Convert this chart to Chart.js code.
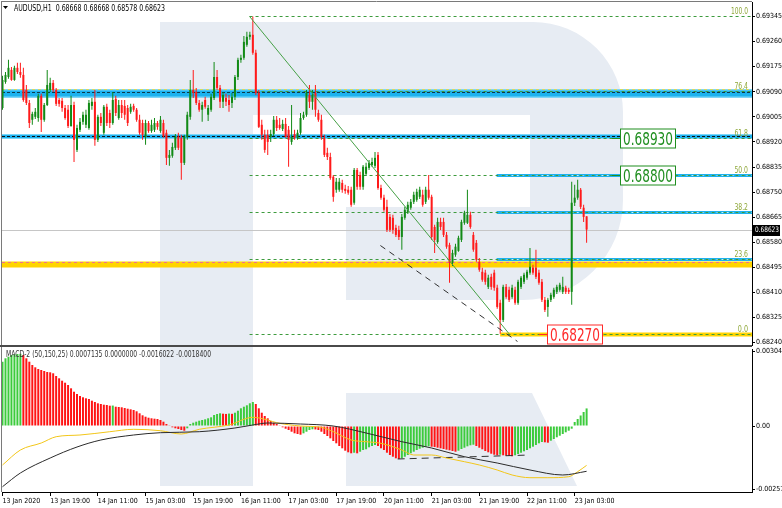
<!DOCTYPE html>
<html>
<head>
<meta charset="utf-8">
<script src="https://cdn.jsdelivr.net/npm/chart.js@4.4.1/dist/chart.umd.min.js"></script>
<style>
html,body{margin:0;padding:0;background:#fff;}
#wrap{position:relative;width:782px;height:508px;overflow:hidden;background:#fff;}
#wm{position:absolute;left:0;top:0;}
#c1{position:absolute;left:0;top:0;}
#c2{position:absolute;left:0;top:347px;}
</style>
</head>
<body>
<div id="wrap">
<svg id="wm" width="782" height="508" xmlns="http://www.w3.org/2000/svg">
 <path d="M160,22 L533,22 A90,90 0 0 1 623,112 L623,200 A100,100 0 0 1 523,300 L346,300 L346,207 L530,207 L530,115 L253,115 L253,486 L160,486 Z" fill="#e7ecf3"/>
 <path d="M346,393 L532,393 L577,486 L346,486 Z" fill="#e7ecf3"/>
</svg>
<canvas id="c1" width="782" height="347"></canvas>
<canvas id="c2" width="782" height="161"></canvas>
</div>
<script>
// ---------------- DATA ----------------
const opens = [0.69035,0.69123,0.69140,0.69164,0.69130,0.69171,0.69157,0.69147,0.69096,0.69052,
0.68995,0.69005,0.69001,0.69076,0.68995,0.69045,0.69096,0.69120,0.69096,0.69062,
0.69059,0.69035,0.69029,0.68974,0.69045,0.68893,0.68961,0.68988,0.68978,0.68967,
0.69042,0.69056,0.68927,0.69005,0.68951,0.69039,0.69018,0.68984,0.69066,0.69001,
0.69045,0.69042,0.69035,0.69022,0.69042,0.69029,0.68995,0.68984,0.68937,0.68984,
0.68957,0.68961,0.68984,0.68957,0.68984,0.68951,0.68866,0.68873,0.68900,0.68937,
0.68934,0.68849,0.68937,0.69005,0.69096,0.69089,0.69052,0.69029,0.69062,0.69012,
0.69029,0.69069,0.69140,0.69103,0.69056,0.69069,0.69062,0.69052,0.69073,0.69140,
0.69198,0.69205,0.69249,0.69276,0.69283,0.69222,0.69086,0.68978,0.68944,0.68944,
0.68937,0.68947,0.68995,0.68978,0.68964,0.68981,0.68961,0.68920,0.68947,0.68934,
0.68951,0.69001,0.69012,0.69079,0.69056,0.69086,0.69018,0.68995,0.68934,0.68883,
0.68869,0.68802,0.68758,0.68758,0.68781,0.68761,0.68758,0.68758,0.68714,0.68825,
0.68808,0.68768,0.68812,0.68832,0.68842,0.68839,0.68876,0.68764,0.68731,0.68700,
0.68666,0.68663,0.68629,0.68622,0.68598,0.68663,0.68683,0.68697,0.68717,0.68724,
0.68734,0.68741,0.68717,0.68758,0.68734,0.68632,0.68581,0.68649,0.68649,0.68605,
0.68571,0.68511,0.68538,0.68551,0.68588,0.68646,0.68646,0.68673,0.68605,0.68578,
0.68514,0.68480,0.68477,0.68429,0.68463,0.68477,0.68426,0.68375,0.68317,0.68429,
0.68419,0.68395,0.68419,0.68375,0.68429,0.68446,0.68460,0.68477,0.68494,0.68494,
0.68477,0.68446,0.68385,0.68361,0.68385,0.68395,0.68412,0.68419,0.68412,0.68426,
0.68419,0.68412,0.68714,0.68731,0.68758,0.68697,0.68668];
const highs = [0.69144,0.69157,0.69198,0.69174,0.69178,0.69188,0.69188,0.69171,0.69113,0.69062,
0.69022,0.69035,0.69083,0.69083,0.69052,0.69164,0.69137,0.69130,0.69103,0.69069,
0.69069,0.69045,0.69045,0.69076,0.69056,0.68978,0.69001,0.69022,0.69029,0.69062,
0.69069,0.69096,0.69012,0.69018,0.69045,0.69049,0.69029,0.69089,0.69076,0.69062,
0.69062,0.69062,0.69045,0.69049,0.69049,0.69035,0.69012,0.68995,0.68995,0.68991,
0.68995,0.69001,0.68991,0.69008,0.68995,0.68961,0.68893,0.68917,0.68947,0.68951,
0.68944,0.68944,0.69022,0.69130,0.69164,0.69103,0.69062,0.69056,0.69073,0.69045,
0.69083,0.69191,0.69164,0.69113,0.69089,0.69083,0.69079,0.69086,0.69147,0.69205,
0.69215,0.69279,0.69293,0.69293,0.69345,0.69232,0.69096,0.68995,0.68961,0.68961,
0.68961,0.69008,0.69008,0.69001,0.68995,0.69001,0.68974,0.69045,0.68961,0.68961,
0.69018,0.69022,0.69096,0.69113,0.69096,0.69113,0.69029,0.69012,0.68944,0.68900,
0.68883,0.68808,0.68798,0.68798,0.68792,0.68775,0.68771,0.68768,0.68832,0.68832,
0.68819,0.68842,0.68849,0.68859,0.68866,0.68886,0.68886,0.68775,0.68741,0.68724,
0.68676,0.68673,0.68639,0.68636,0.68676,0.68700,0.68717,0.68727,0.68751,0.68761,
0.68768,0.68758,0.68768,0.68808,0.68741,0.68639,0.68663,0.68663,0.68663,0.68615,
0.68578,0.68555,0.68575,0.68602,0.68656,0.68687,0.68758,0.68683,0.68615,0.68588,
0.68527,0.68494,0.68487,0.68470,0.68473,0.68487,0.68436,0.68385,0.68436,0.68439,
0.68429,0.68436,0.68429,0.68453,0.68466,0.68477,0.68487,0.68561,0.68504,0.68555,
0.68487,0.68456,0.68395,0.68392,0.68409,0.68426,0.68436,0.68443,0.68463,0.68433,
0.68426,0.68785,0.68775,0.68792,0.68764,0.68707,0.68668];
const lows = [0.69029,0.69117,0.69134,0.69127,0.69127,0.69150,0.69137,0.69056,0.69045,0.68967,
0.68978,0.68998,0.68988,0.68954,0.68988,0.69042,0.69089,0.69089,0.69042,0.69039,
0.69022,0.68995,0.68967,0.68971,0.68852,0.68886,0.68954,0.68978,0.68967,0.68961,
0.69029,0.68907,0.68920,0.68974,0.68944,0.68974,0.68967,0.68978,0.69008,0.68995,
0.69001,0.68995,0.68974,0.69015,0.69022,0.68988,0.68944,0.68927,0.68910,0.68951,
0.68951,0.68954,0.68961,0.68951,0.68934,0.68842,0.68839,0.68866,0.68893,0.68893,
0.68792,0.68842,0.68927,0.68995,0.69069,0.69045,0.69022,0.68988,0.69032,0.68991,
0.69022,0.69062,0.69096,0.69035,0.69035,0.69042,0.69022,0.69035,0.69062,0.69130,
0.69188,0.69198,0.69242,0.69266,0.69215,0.69079,0.68967,0.68927,0.68883,0.68876,
0.68920,0.68940,0.68957,0.68961,0.68957,0.68934,0.68836,0.68910,0.68927,0.68927,
0.68944,0.68995,0.69005,0.69035,0.69029,0.69005,0.68988,0.68927,0.68869,0.68859,
0.68792,0.68717,0.68748,0.68751,0.68748,0.68744,0.68741,0.68700,0.68707,0.68758,
0.68758,0.68758,0.68805,0.68825,0.68836,0.68832,0.68758,0.68724,0.68683,0.68615,
0.68615,0.68609,0.68598,0.68588,0.68555,0.68656,0.68676,0.68690,0.68710,0.68717,
0.68727,0.68700,0.68710,0.68724,0.68588,0.68544,0.68575,0.68622,0.68598,0.68558,
0.68443,0.68500,0.68531,0.68548,0.68581,0.68639,0.68642,0.68626,0.68548,0.68514,
0.68480,0.68446,0.68436,0.68422,0.68419,0.68416,0.68355,0.68270,0.68310,0.68389,
0.68378,0.68389,0.68368,0.68368,0.68422,0.68439,0.68453,0.68470,0.68470,0.68456,
0.68436,0.68378,0.68344,0.68328,0.68378,0.68389,0.68405,0.68412,0.68405,0.68405,
0.68405,0.68368,0.68703,0.68724,0.68693,0.68649,0.68578];
const closes = [0.69130,0.69147,0.69171,0.69130,0.69171,0.69157,0.69147,0.69062,0.69052,0.68984,
0.69015,0.69022,0.69076,0.68995,0.69045,0.69113,0.69120,0.69096,0.69049,0.69049,
0.69035,0.69001,0.68974,0.69045,0.68927,0.68967,0.68988,0.69012,0.69012,0.69052,
0.69056,0.68927,0.69005,0.68984,0.69039,0.68984,0.68984,0.69062,0.69018,0.69045,
0.69018,0.69012,0.68984,0.69039,0.69029,0.68995,0.68951,0.68944,0.68984,0.68957,
0.68978,0.68984,0.68971,0.68995,0.68940,0.68866,0.68876,0.68903,0.68937,0.68900,
0.68849,0.68937,0.69012,0.69096,0.69086,0.69052,0.69029,0.69045,0.69039,0.69035,
0.69073,0.69140,0.69103,0.69056,0.69079,0.69056,0.69045,0.69073,0.69140,0.69198,
0.69205,0.69259,0.69276,0.69283,0.69222,0.69086,0.68971,0.68944,0.68893,0.68920,
0.68947,0.68995,0.68967,0.68967,0.68981,0.68937,0.68927,0.68937,0.68934,0.68951,
0.69001,0.69012,0.69086,0.69056,0.69079,0.69029,0.68995,0.68937,0.68876,0.68869,
0.68798,0.68734,0.68785,0.68785,0.68758,0.68754,0.68748,0.68707,0.68825,0.68768,
0.68768,0.68836,0.68836,0.68849,0.68852,0.68866,0.68764,0.68731,0.68690,0.68622,
0.68622,0.68622,0.68605,0.68598,0.68666,0.68690,0.68707,0.68717,0.68741,0.68751,
0.68758,0.68707,0.68758,0.68731,0.68598,0.68588,0.68649,0.68632,0.68605,0.68565,
0.68511,0.68544,0.68565,0.68595,0.68649,0.68680,0.68673,0.68632,0.68555,0.68521,
0.68487,0.68453,0.68446,0.68460,0.68429,0.68426,0.68361,0.68317,0.68429,0.68395,
0.68385,0.68426,0.68375,0.68446,0.68460,0.68470,0.68480,0.68497,0.68477,0.68463,
0.68443,0.68385,0.68351,0.68385,0.68402,0.68419,0.68429,0.68436,0.68429,0.68412,
0.68412,0.68714,0.68731,0.68758,0.68700,0.68666,0.68623];

// MACD histogram and its colour runs (g = rising, r = falling)
const macdHist = [0.002612,0.002750,0.002815,0.002884,0.002913,0.002925,0.002935,0.002884,0.002750,0.002612,
0.002478,0.002384,0.002315,0.002275,0.002234,0.002193,0.002181,0.002141,0.002031,0.001938,
0.001840,0.001759,0.001665,0.001531,0.001393,0.001300,0.001219,0.001166,0.001125,0.001097,
0.001028,0.000975,0.000922,0.000894,0.000865,0.000853,0.000825,0.000830,0.000784,0.000772,
0.000760,0.000731,0.000703,0.000678,0.000650,0.000597,0.000516,0.000435,0.000378,0.000337,
0.000313,0.000297,0.000284,0.000244,0.000175,0.000081,0.000028,-0.000053,-0.000093,-0.000122,
-0.000162,-0.000191,-0.000093,0.000081,0.000134,0.000175,0.000215,0.000244,0.000272,0.000313,
0.000353,0.000447,0.000487,0.000516,0.000500,0.000490,0.000505,0.000495,0.000540,0.000621,
0.000719,0.000784,0.000841,0.000922,0.000975,0.000894,0.000719,0.000540,0.000406,0.000313,
0.000203,0.000134,0.000081,0.000028,-0.000053,-0.000110,-0.000162,-0.000232,-0.000297,-0.000325,
-0.000353,-0.000297,-0.000232,-0.000162,-0.000134,-0.000140,-0.000162,-0.000232,-0.000325,-0.000406,
-0.000500,-0.000609,-0.000703,-0.000812,-0.000906,-0.001003,-0.001068,-0.001109,-0.001085,-0.001109,
-0.001044,-0.000975,-0.000946,-0.000865,-0.000812,-0.000772,-0.000812,-0.000906,-0.000975,-0.001085,
-0.001178,-0.001247,-0.001312,-0.001340,-0.001312,-0.001247,-0.001178,-0.001109,-0.001044,-0.000975,
-0.000922,-0.000881,-0.000841,-0.000825,-0.000841,-0.000853,-0.000881,-0.000906,-0.000934,-0.000963,
-0.000987,-0.001016,-0.001044,-0.001003,-0.000934,-0.000881,-0.000825,-0.000784,-0.000760,-0.000812,
-0.000881,-0.000946,-0.001016,-0.001068,-0.001125,-0.001166,-0.001190,-0.001166,-0.001190,-0.001206,
-0.001219,-0.001231,-0.001190,-0.001137,-0.001085,-0.001028,-0.000975,-0.000906,-0.000841,-0.000772,
-0.000703,-0.000650,-0.000662,-0.000678,-0.000597,-0.000528,-0.000459,-0.000394,-0.000325,-0.000256,
-0.000191,-0.000110,0.000162,0.000284,0.000427,0.000569,0.000714];
const histColorRuns = [['g',7],['r',30],['g',1],['r',24],['g',12],['r',2],['g',1],['r',1],['g',7],['r',16],['g',4],['r',13],['g',1],['r',1],['g',6],['r',8],['g',10],['r',9],['g',6],['r',8],['g',1],['r',4],['g',10],['r',2],['g',13]];

// MACD lines (bar index, value) read at key points
const blackIdx = [0,6,16,25,33,44,53,66,78,84,89,100,111,122,134,144,155,166,177,188,196];
const blackVal = [-0.002466,-0.001909,-0.0013,-0.000853,-0.000569,-0.000366,-0.000272,-0.000232,-0.000081,0.000041,0.000122,0.000081,0,-0.000284,-0.000638,-0.000894,-0.001247,-0.001503,-0.001787,-0.00199,-0.00184];
const yellowIdx = [0,6,13,18,26,36,44,53,60,66,76,84,89,92,100,107,111,117,122,127,134,138,144,149,155,160,166,171,177,183,190,193,196];
const yellowVal = [-0.001584,-0.000975,-0.000691,-0.000435,-0.000366,-0.000232,-0.000134,-0.000191,-0.000325,-0.000134,0.000041,0.000353,0.000244,0.000134,0,-0.000053,-0.000232,-0.000569,-0.000638,-0.000703,-0.000975,-0.001178,-0.001178,-0.0013,-0.00145,-0.001584,-0.001787,-0.00199,-0.0021,-0.0021,-0.00206,-0.001856,-0.0016];
const macdDashIdx = [132.6,176.5];
const macdDashVal = [-0.00134,-0.00118];

// Axis ticks
const priceTicks = [0.69345,0.69260,0.69175,0.69090,0.69005,0.68920,0.68835,0.68750,0.68665,0.68580,0.68495,0.68410,0.68325,0.68240];
const macdTickVals = [0.0030465,0,-0.002575];
const macdTickLabels = ['0.0030465','0.00','-0.002575'];
const timeTickIdx = [0,16,32,48,64,80,96,112,128,144,160,176,192];
const timeLabels = ['13 Jan 2020','13 Jan 19:00','14 Jan 11:00','15 Jan 03:00','15 Jan 19:00','16 Jan 11:00','17 Jan 03:00','17 Jan 19:00','20 Jan 11:00','21 Jan 03:00','21 Jan 19:00','22 Jan 11:00','23 Jan 03:00'];

// Objects on the price chart
const fibPrices = [0.69345,0.69091,0.68934,0.68808,0.68681,0.68524,0.68270];
const fibLabels = ['100.0','76.4','61.8','50.0','38.2','23.6','0.0'];
const fibStartIdx = 82.9;
const fibTrendIdx = [82.9,170.0];
const fibTrendVal = [0.69345,0.68270];
const channelIdx = [126.8,172.8];
const channelVal = [0.68569,0.68244];
const cyanFullPrices = [0.69087,0.68939];
const cyanPartPrices = [0.68808,0.68681,0.68524];
const cyanPartStartIdx = 165.8;
const yellowBandPrice = 0.68506;
const pinkLinePrice = 0.68512;
const dashFullPrices = [0.69093,0.68940];
const lowLinePrice = 0.68270;
const lowLineStartIdx = 167;
const boxPrices = [0.68934,0.68808,0.68270];
const boxTexts = ['0.68930','0.68800','0.68270'];
const boxStartIdx = [207.3,207.3,182.6];
const symbolHeader = 'AUDUSD,H1  0.68668 0.68668 0.68578 0.68623';
const macdHeader = 'MACD-2 (50,150,25) 0.0007135 0.0000000 -0.0016022 -0.0018400';
const lastClose = closes[closes.length-1];

// ---------------- STYLE / RENDER ----------------
const FONT = "'DejaVu Sans Condensed','Liberation Sans',sans-serif";
Chart.defaults.font.family = FONT;
Chart.defaults.color = '#000';
const X_MIN = -0.17, X_MAX = 251.5;
const BULL = '#128a16', BEAR = '#ff1a1a', CYAN = '#1cb2ef', GOLD = '#ffd400';

const histColors = [];
histColorRuns.forEach(([c,n]) => { for (let k=0;k<n;k++) histColors.push(c==='g' ? '#3ccb3c' : '#ff1414'); });
const candleColors = opens.map((o,i) => closes[i] >= o ? BULL : BEAR);

function hline(ctx, x1, x2, y, color, w, dash){
  ctx.save(); ctx.strokeStyle = color; ctx.lineWidth = w; ctx.setLineDash(dash || []);
  ctx.beginPath(); ctx.moveTo(x1, y); ctx.lineTo(x2, y); ctx.stroke(); ctx.restore();
}
// draws text squeezed horizontally to a target width (narrow MT4-like font)
function squeezeText(ctx, text, x, y, px, color, targetW, align){
  ctx.save();
  ctx.font = px + 'px ' + FONT;
  const w = ctx.measureText(text).width;
  const sx = targetW ? Math.min(1, targetW / w) : 1;
  const realW = w * sx;
  let left = x;
  if (align === 'right') left = x - realW;
  ctx.translate(left, y); ctx.scale(sx, 1);
  ctx.fillStyle = color; ctx.textAlign = 'left';
  ctx.fillText(text, 0, 0);
  ctx.restore();
  return realW;
}

const mainDecor = {
  id: 'mainDecor',
  beforeDatasetsDraw(chart){
    const {ctx, chartArea:a, scales:{x, y}} = chart;
    const Y = v => Math.round(y.getPixelForValue(v)) + 0.5;
    const X = v => x.getPixelForValue(v);
    ctx.save();
    ctx.beginPath(); ctx.rect(a.left, a.top, a.right - a.left, a.bottom - a.top); ctx.clip();
    hline(ctx, a.left, a.right, Y(lastClose), '#c6c6c6', 1);
    hline(ctx, a.left, a.right, Y(yellowBandPrice), GOLD, 6);
    hline(ctx, a.left, a.right, Y(pinkLinePrice), '#f0708c', 1, [3,3]);
    hline(ctx, a.left, a.right, Y(cyanFullPrices[0]), '#7fd6f7', 9);
    hline(ctx, a.left, a.right, Y(cyanFullPrices[0]), CYAN, 6);
    hline(ctx, a.left, a.right, Y(cyanFullPrices[1]), '#7fd6f7', 5);
    hline(ctx, a.left, a.right, Y(cyanFullPrices[1]), CYAN, 3);
    hline(ctx, a.left, a.right, Y(dashFullPrices[0]) - 2, '#d4d860', 1, [3,3]);
    hline(ctx, a.left, a.right, Y(dashFullPrices[0]) + 1, '#0d3a4a', 1, [3,2]);
    hline(ctx, a.left, a.right, Y(dashFullPrices[1]), '#101010', 1, [3,2]);
    cyanPartPrices.forEach(p => {
      hline(ctx, X(cyanPartStartIdx), a.right, Y(p), CYAN, 3);
      hline(ctx, X(cyanPartStartIdx), a.right, Y(p), '#bfeaff', 1, [2,3]);
    });
    hline(ctx, X(lowLineStartIdx), a.right, Y(lowLinePrice), GOLD, 4);
    fibPrices.forEach(p => hline(ctx, X(fibStartIdx), a.right, Y(p), '#3d9b3d', 1, [3,3]));
    ctx.restore();
  },
  afterDatasetsDraw(chart){
    const {ctx, chartArea:a, scales:{x, y}} = chart;
    const X = v => x.getPixelForValue(v);
    ctx.save();
    ctx.textBaseline = 'alphabetic';
    fibPrices.forEach((p,k) => {
      const yy = Math.round(y.getPixelForValue(p)) - 2;
      squeezeText(ctx, fibLabels[k], a.right - 4, yy, 8, '#8fa83a', fibLabels[k].length * 3.4, 'right');
    });
    boxPrices.forEach((p,k) => {
      const cy = Math.round(y.getPixelForValue(p));
      const left = Math.round(X(boxStartIdx[k]));
      const col = k === 2 ? '#ff2a2a' : '#1f8e1f';
      const w = 55, h = 19;
      hline(ctx, left - 8, left, cy + 0.5, col, 1);
      ctx.fillStyle = '#fff'; ctx.fillRect(left, cy - h/2, w, h);
      ctx.strokeStyle = col; ctx.lineWidth = 1; ctx.strokeRect(left + 0.5, cy - h/2 + 0.5, w, h);
      ctx.textBaseline = 'alphabetic';
      squeezeText(ctx, boxTexts[k], left + 3, cy + 7, 17, col, 50, 'left');
    });
    ctx.restore();
  },
  afterDraw(chart){
    const {ctx, chartArea:a, scales:{y}} = chart;
    ctx.save();
    // frame
    ctx.strokeStyle = '#7a7a7a'; ctx.lineWidth = 1;
    ctx.beginPath(); ctx.moveTo(1.5, 1); ctx.lineTo(1.5, a.bottom); ctx.moveTo(1, 1.5); ctx.lineTo(a.right, 1.5); ctx.stroke();
    hline(ctx, 0, a.right, a.bottom + 1, '#4a4a4a', 2);
    // current price tag
    const yp = Math.round(y.getPixelForValue(lastClose));
    ctx.fillStyle = '#000'; ctx.fillRect(a.right + 1, yp - 5, 27, 11);
    ctx.textBaseline = 'middle';
    squeezeText(ctx, lastClose.toFixed(5), a.right + 3, yp + 0.5, 7.5, '#fff', 24, 'left');
    // header
    ctx.fillStyle = '#000';
    ctx.beginPath(); ctx.moveTo(3, 6); ctx.lineTo(8, 6); ctx.lineTo(5.5, 9); ctx.closePath(); ctx.fill();
    ctx.textBaseline = 'alphabetic';
    squeezeText(ctx, symbolHeader, 14, 10.5, 8.5, '#000', 151, 'left');
    ctx.restore();
  }
};

new Chart(document.getElementById('c1'), {
  type: 'bar',
  data: { datasets: [
    { type:'line', data: fibTrendIdx.map((v,k)=>({x:v, y:fibTrendVal[k]})), borderColor:'#46a046', borderWidth:1, pointRadius:0, order:0 },
    { type:'line', data: channelIdx.map((v,k)=>({x:v, y:channelVal[k]})), borderColor:'#303030', borderWidth:1, borderDash:[6,5], pointRadius:0, order:0 },
    { data: opens.map((o,i)=>({x:i, y:[o, closes[i]]})), backgroundColor: candleColors, barThickness:2, minBarLength:1, grouped:false, inflateAmount:0, order:1 },
    { data: lows.map((l,i)=>({x:i, y:[l, highs[i]]})), backgroundColor: candleColors, barThickness:1, grouped:false, inflateAmount:0, order:2 }
  ]},
  options: {
    responsive:false, animation:false, devicePixelRatio:1,
    layout:{ padding:{ left:2, top:2, right:0, bottom:2 } },
    plugins:{ legend:{display:false}, tooltip:{enabled:false} },
    scales:{
      x:{ type:'linear', min:X_MIN, max:X_MAX, offset:false, display:false },
      y:{ position:'right', min:0.68232, max:0.69394,
          afterBuildTicks: s => { s.ticks = priceTicks.map(v=>({value:v})); },
          afterFit: s => { s.width = 30; s.paddingTop = 0; s.paddingBottom = 0; },
          ticks:{ font:{size:7}, padding:1, color:'#000', callback: v => Number(v).toFixed(5) },
          grid:{ drawOnChartArea:false, tickLength:3, color:'#000' },
          border:{ color:'#000' } }
    }
  },
  plugins:[mainDecor]
});

const macdDecor = {
  id:'macdDecor',
  afterDraw(chart){
    const {ctx, chartArea:a} = chart;
    ctx.save();
    ctx.strokeStyle = '#7a7a7a'; ctx.lineWidth = 1;
    ctx.beginPath(); ctx.moveTo(1.5, 0); ctx.lineTo(1.5, a.bottom); ctx.stroke();
    ctx.textBaseline = 'alphabetic';
    squeezeText(ctx, macdHeader, 6, 9.5, 8, '#333', 205, 'left');
    ctx.restore();
  }
};

new Chart(document.getElementById('c2'), {
  type: 'bar',
  data: { datasets: [
    { type:'line', data: blackIdx.map((v,k)=>({x:v, y:blackVal[k]})), borderColor:'#2b2b2b', borderWidth:1, pointRadius:0, cubicInterpolationMode:'monotone', order:0 },
    { type:'line', data: yellowIdx.map((v,k)=>({x:v, y:yellowVal[k]})), borderColor:'#f2c619', borderWidth:1, pointRadius:0, cubicInterpolationMode:'monotone', order:0 },
    { type:'line', data: macdDashIdx.map((v,k)=>({x:v, y:macdDashVal[k]})), borderColor:'#303030', borderWidth:1, borderDash:[7,5], pointRadius:0, order:0 },
    { data: macdHist.map((v,i)=>({x:i, y:v})), backgroundColor: histColors, barThickness:2, grouped:false, inflateAmount:0, order:1 }
  ]},
  options: {
    responsive:false, animation:false, devicePixelRatio:1,
    layout:{ padding:{ left:2, top:2, right:0, bottom:0 } },
    plugins:{ legend:{display:false}, tooltip:{enabled:false} },
    scales:{
      x:{ type:'linear', min:X_MIN, max:X_MAX, offset:false,
          afterBuildTicks: s => { s.ticks = timeTickIdx.map(v=>({value:v})); },
          afterFit: s => { s.height = 16; s.paddingLeft = 0; s.paddingRight = 0; },
          ticks:{ autoSkip:false, maxRotation:0, minRotation:0, align:'start', padding:1, font:{size:7}, color:'#000', callback:(v,k)=>timeLabels[k] },
          grid:{ drawOnChartArea:false, tickLength:4, color:'#000', offset:false },
          border:{ color:'#000' } },
      y:{ position:'right', min:-0.002681, max:0.003128,
          afterBuildTicks: s => { s.ticks = macdTickVals.map(v=>({value:v})); },
          afterFit: s => { s.width = 30; s.paddingTop = 0; s.paddingBottom = 0; },
          ticks:{ font:{size:7}, padding:1, color:'#000', callback:(v,k)=>macdTickLabels[k] },
          grid:{ drawOnChartArea:false, tickLength:3, color:'#000' },
          border:{ color:'#000' } }
    }
  },
  plugins:[macdDecor]
});
</script>
</body>
</html>
